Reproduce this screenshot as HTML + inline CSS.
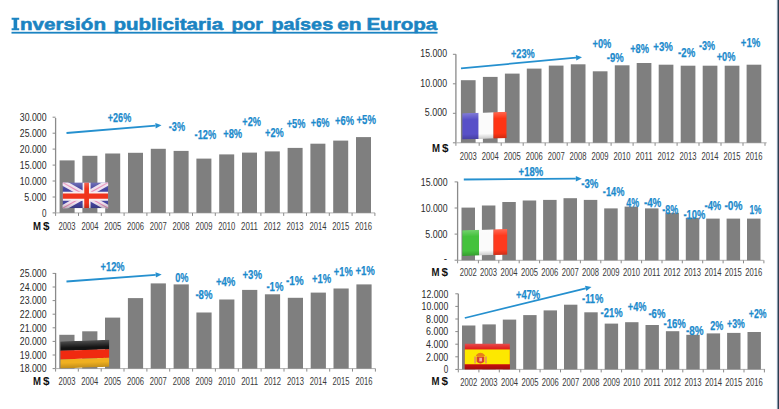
<!DOCTYPE html>
<html><head><meta charset="utf-8">
<style>
html,body{margin:0;padding:0;background:#fff;}
body{width:779px;height:409px;overflow:hidden;position:relative;}
svg{display:block;}
.ax{font-family:"Liberation Sans", sans-serif;font-size:10px;fill:#2a2a2a;}
.yr{font-family:"Liberation Sans", sans-serif;font-size:10.4px;fill:#3a3a3a;}
.ms{font-family:"Liberation Sans", sans-serif;font-size:10.5px;font-weight:bold;fill:#111;}
.pc{font-family:"Liberation Sans", sans-serif;font-size:13.3px;font-weight:bold;fill:#1b8acc;stroke:#1b8acc;stroke-width:0.25px;}
.ti{font-family:"Liberation Sans", sans-serif;font-size:17px;font-weight:bold;fill:#1b84c2;stroke:#1b84c2;stroke-width:0.55px;}
</style></head><body>
<svg width="779" height="409" viewBox="0 0 779 409">
<defs>
<linearGradient id="gl" x1="0" y1="0" x2="0" y2="1">
<stop offset="0" stop-color="#fff" stop-opacity="0.25"/>
<stop offset="0.25" stop-color="#fff" stop-opacity="0"/>
<stop offset="0.8" stop-color="#000" stop-opacity="0"/>
<stop offset="1" stop-color="#000" stop-opacity="0.2"/>
</linearGradient>
</defs>
<rect width="779" height="409" fill="#fff"/>
<text x="20.0" y="30.2" class="ti" textLength="86.0" lengthAdjust="spacingAndGlyphs">nversión</text><text x="113.4" y="30.2" class="ti" textLength="109.8" lengthAdjust="spacingAndGlyphs">publicitaria</text><text x="231.4" y="30.2" class="ti" textLength="31.4" lengthAdjust="spacingAndGlyphs">por</text><text x="271.4" y="30.2" class="ti" textLength="61.8" lengthAdjust="spacingAndGlyphs">países</text><text x="337.2" y="30.2" class="ti" textLength="24.4" lengthAdjust="spacingAndGlyphs">en</text><text x="366.4" y="30.2" class="ti" textLength="70.9" lengthAdjust="spacingAndGlyphs">Europa</text>
<path d="M11.6,17.7H19.2V19.7H17.2V28.2H19.2V30.2H11.6V28.2H13.6V19.7H11.6Z" fill="#1b84c2"/>
<rect x="11.5" y="31.8" width="426" height="1.8" fill="#1b84c2"/>
<text x="46.5" y="216.6" text-anchor="end" class="ax" textLength="4.5" lengthAdjust="spacingAndGlyphs">0</text>
<line x1="52.6" y1="212.9" x2="55.6" y2="212.9" stroke="#8a8a8a" stroke-width="1"/>
<text x="46.5" y="200.7" text-anchor="end" class="ax" textLength="22.2" lengthAdjust="spacingAndGlyphs">5.000</text>
<line x1="52.6" y1="197.0" x2="55.6" y2="197.0" stroke="#8a8a8a" stroke-width="1"/>
<text x="46.5" y="184.7" text-anchor="end" class="ax" textLength="26.7" lengthAdjust="spacingAndGlyphs">10.000</text>
<line x1="52.6" y1="181.0" x2="55.6" y2="181.0" stroke="#8a8a8a" stroke-width="1"/>
<text x="46.5" y="168.8" text-anchor="end" class="ax" textLength="26.7" lengthAdjust="spacingAndGlyphs">15.000</text>
<line x1="52.6" y1="165.1" x2="55.6" y2="165.1" stroke="#8a8a8a" stroke-width="1"/>
<text x="46.5" y="152.8" text-anchor="end" class="ax" textLength="26.7" lengthAdjust="spacingAndGlyphs">20.000</text>
<line x1="52.6" y1="149.1" x2="55.6" y2="149.1" stroke="#8a8a8a" stroke-width="1"/>
<text x="46.5" y="136.8" text-anchor="end" class="ax" textLength="26.7" lengthAdjust="spacingAndGlyphs">25.000</text>
<line x1="52.6" y1="133.2" x2="55.6" y2="133.2" stroke="#8a8a8a" stroke-width="1"/>
<text x="46.5" y="120.9" text-anchor="end" class="ax" textLength="26.7" lengthAdjust="spacingAndGlyphs">30.000</text>
<line x1="52.6" y1="117.2" x2="55.6" y2="117.2" stroke="#8a8a8a" stroke-width="1"/>
<line x1="55.6" y1="118" x2="55.6" y2="212.9" stroke="#8a8a8a" stroke-width="1.3"/>
<line x1="55.6" y1="212.9" x2="375" y2="212.9" stroke="#b0b0b0" stroke-width="1"/>
<rect x="59.6" y="160.4" width="15" height="52.5" fill="#7f7f7f"/>
<rect x="82.4" y="155.8" width="15" height="57.1" fill="#7f7f7f"/>
<rect x="105.2" y="153.5" width="15" height="59.4" fill="#7f7f7f"/>
<rect x="128.0" y="152.8" width="15" height="60.1" fill="#7f7f7f"/>
<rect x="150.8" y="148.8" width="15" height="64.1" fill="#7f7f7f"/>
<rect x="173.6" y="150.9" width="15" height="62.0" fill="#7f7f7f"/>
<rect x="196.4" y="158.6" width="15" height="54.3" fill="#7f7f7f"/>
<rect x="219.2" y="154.4" width="15" height="58.5" fill="#7f7f7f"/>
<rect x="242.0" y="152.6" width="15" height="60.3" fill="#7f7f7f"/>
<rect x="264.8" y="151.4" width="15" height="61.5" fill="#7f7f7f"/>
<rect x="287.6" y="147.9" width="15" height="65.0" fill="#7f7f7f"/>
<rect x="310.4" y="143.7" width="15" height="69.2" fill="#7f7f7f"/>
<rect x="333.2" y="140.6" width="15" height="72.3" fill="#7f7f7f"/>
<rect x="356.0" y="137.1" width="15" height="75.8" fill="#7f7f7f"/>
<line x1="55.6" y1="212.9" x2="55.6" y2="215.9" stroke="#8a8a8a" stroke-width="1"/>
<line x1="78.5" y1="212.9" x2="78.5" y2="215.9" stroke="#8a8a8a" stroke-width="1"/>
<line x1="101.3" y1="212.9" x2="101.3" y2="215.9" stroke="#8a8a8a" stroke-width="1"/>
<line x1="124.1" y1="212.9" x2="124.1" y2="215.9" stroke="#8a8a8a" stroke-width="1"/>
<line x1="146.9" y1="212.9" x2="146.9" y2="215.9" stroke="#8a8a8a" stroke-width="1"/>
<line x1="169.7" y1="212.9" x2="169.7" y2="215.9" stroke="#8a8a8a" stroke-width="1"/>
<line x1="192.5" y1="212.9" x2="192.5" y2="215.9" stroke="#8a8a8a" stroke-width="1"/>
<line x1="215.3" y1="212.9" x2="215.3" y2="215.9" stroke="#8a8a8a" stroke-width="1"/>
<line x1="238.1" y1="212.9" x2="238.1" y2="215.9" stroke="#8a8a8a" stroke-width="1"/>
<line x1="260.9" y1="212.9" x2="260.9" y2="215.9" stroke="#8a8a8a" stroke-width="1"/>
<line x1="283.7" y1="212.9" x2="283.7" y2="215.9" stroke="#8a8a8a" stroke-width="1"/>
<line x1="306.5" y1="212.9" x2="306.5" y2="215.9" stroke="#8a8a8a" stroke-width="1"/>
<line x1="329.3" y1="212.9" x2="329.3" y2="215.9" stroke="#8a8a8a" stroke-width="1"/>
<line x1="352.1" y1="212.9" x2="352.1" y2="215.9" stroke="#8a8a8a" stroke-width="1"/>
<line x1="374.9" y1="212.9" x2="374.9" y2="215.9" stroke="#8a8a8a" stroke-width="1"/>
<text x="67.1" y="229.5" text-anchor="middle" class="yr" textLength="17" lengthAdjust="spacingAndGlyphs">2003</text>
<text x="89.9" y="229.5" text-anchor="middle" class="yr" textLength="17" lengthAdjust="spacingAndGlyphs">2004</text>
<text x="112.7" y="229.5" text-anchor="middle" class="yr" textLength="17" lengthAdjust="spacingAndGlyphs">2005</text>
<text x="135.5" y="229.5" text-anchor="middle" class="yr" textLength="17" lengthAdjust="spacingAndGlyphs">2006</text>
<text x="158.3" y="229.5" text-anchor="middle" class="yr" textLength="17" lengthAdjust="spacingAndGlyphs">2007</text>
<text x="181.1" y="229.5" text-anchor="middle" class="yr" textLength="17" lengthAdjust="spacingAndGlyphs">2008</text>
<text x="203.9" y="229.5" text-anchor="middle" class="yr" textLength="17" lengthAdjust="spacingAndGlyphs">2009</text>
<text x="226.7" y="229.5" text-anchor="middle" class="yr" textLength="17" lengthAdjust="spacingAndGlyphs">2010</text>
<text x="249.5" y="229.5" text-anchor="middle" class="yr" textLength="17" lengthAdjust="spacingAndGlyphs">2011</text>
<text x="272.3" y="229.5" text-anchor="middle" class="yr" textLength="17" lengthAdjust="spacingAndGlyphs">2012</text>
<text x="295.1" y="229.5" text-anchor="middle" class="yr" textLength="17" lengthAdjust="spacingAndGlyphs">2013</text>
<text x="317.9" y="229.5" text-anchor="middle" class="yr" textLength="17" lengthAdjust="spacingAndGlyphs">2014</text>
<text x="340.7" y="229.5" text-anchor="middle" class="yr" textLength="17" lengthAdjust="spacingAndGlyphs">2015</text>
<text x="363.5" y="229.5" text-anchor="middle" class="yr" textLength="17" lengthAdjust="spacingAndGlyphs">2016</text>
<text x="33" y="229.8" class="ms" textLength="8" lengthAdjust="spacingAndGlyphs">M</text>
<text x="43" y="229.8" class="ms" textLength="6.5" lengthAdjust="spacingAndGlyphs">$</text>
<line x1="66.5" y1="133" x2="155.5" y2="125.7" stroke="#2590cf" stroke-width="1.8"/>
<polygon points="161.5,125.2 155.7,128.4 155.3,123.0" fill="#2590cf"/>
<text x="107.8" y="121.8" class="pc" textLength="23.4" lengthAdjust="spacingAndGlyphs">+26%</text>
<text x="168.8" y="130.8" class="pc" textLength="16.3" lengthAdjust="spacingAndGlyphs">-3%</text>
<text x="194.6" y="138.5" class="pc" textLength="21.6" lengthAdjust="spacingAndGlyphs">-12%</text>
<text x="223.2" y="137.8" class="pc" textLength="19.0" lengthAdjust="spacingAndGlyphs">+8%</text>
<text x="242.3" y="125.7" class="pc" textLength="18.6" lengthAdjust="spacingAndGlyphs">+2%</text>
<text x="265.1" y="136.9" class="pc" textLength="18.7" lengthAdjust="spacingAndGlyphs">+2%</text>
<text x="286.7" y="128.0" class="pc" textLength="18.7" lengthAdjust="spacingAndGlyphs">+5%</text>
<text x="310.8" y="126.7" class="pc" textLength="18.7" lengthAdjust="spacingAndGlyphs">+6%</text>
<text x="335.0" y="125.4" class="pc" textLength="19.0" lengthAdjust="spacingAndGlyphs">+6%</text>
<text x="356.5" y="124.1" class="pc" textLength="19.4" lengthAdjust="spacingAndGlyphs">+5%</text>
<text x="46.5" y="372.3" text-anchor="end" class="ax" textLength="26.7" lengthAdjust="spacingAndGlyphs">18.000</text>
<line x1="52.6" y1="368.6" x2="55.6" y2="368.6" stroke="#8a8a8a" stroke-width="1"/>
<text x="46.5" y="358.7" text-anchor="end" class="ax" textLength="26.7" lengthAdjust="spacingAndGlyphs">19.000</text>
<line x1="52.6" y1="355.0" x2="55.6" y2="355.0" stroke="#8a8a8a" stroke-width="1"/>
<text x="46.5" y="345.1" text-anchor="end" class="ax" textLength="26.7" lengthAdjust="spacingAndGlyphs">20.000</text>
<line x1="52.6" y1="341.4" x2="55.6" y2="341.4" stroke="#8a8a8a" stroke-width="1"/>
<text x="46.5" y="331.5" text-anchor="end" class="ax" textLength="26.7" lengthAdjust="spacingAndGlyphs">21.000</text>
<line x1="52.6" y1="327.8" x2="55.6" y2="327.8" stroke="#8a8a8a" stroke-width="1"/>
<text x="46.5" y="317.9" text-anchor="end" class="ax" textLength="26.7" lengthAdjust="spacingAndGlyphs">22.000</text>
<line x1="52.6" y1="314.2" x2="55.6" y2="314.2" stroke="#8a8a8a" stroke-width="1"/>
<text x="46.5" y="304.3" text-anchor="end" class="ax" textLength="26.7" lengthAdjust="spacingAndGlyphs">23.000</text>
<line x1="52.6" y1="300.6" x2="55.6" y2="300.6" stroke="#8a8a8a" stroke-width="1"/>
<text x="46.5" y="290.7" text-anchor="end" class="ax" textLength="26.7" lengthAdjust="spacingAndGlyphs">24.000</text>
<line x1="52.6" y1="287.0" x2="55.6" y2="287.0" stroke="#8a8a8a" stroke-width="1"/>
<text x="46.5" y="277.1" text-anchor="end" class="ax" textLength="26.7" lengthAdjust="spacingAndGlyphs">25.000</text>
<line x1="52.6" y1="273.4" x2="55.6" y2="273.4" stroke="#8a8a8a" stroke-width="1"/>
<line x1="55.6" y1="273" x2="55.6" y2="368.6" stroke="#8a8a8a" stroke-width="1.3"/>
<line x1="55.6" y1="368.6" x2="375.4" y2="368.6" stroke="#b0b0b0" stroke-width="1"/>
<rect x="59.3" y="334.8" width="15.2" height="33.8" fill="#7f7f7f"/>
<rect x="82.2" y="331.3" width="15.2" height="37.3" fill="#7f7f7f"/>
<rect x="105.0" y="317.6" width="15.2" height="51.0" fill="#7f7f7f"/>
<rect x="127.9" y="298.1" width="15.2" height="70.5" fill="#7f7f7f"/>
<rect x="150.7" y="283.4" width="15.2" height="85.2" fill="#7f7f7f"/>
<rect x="173.6" y="284.4" width="15.2" height="84.2" fill="#7f7f7f"/>
<rect x="196.4" y="312.5" width="15.2" height="56.1" fill="#7f7f7f"/>
<rect x="219.2" y="299.5" width="15.2" height="69.1" fill="#7f7f7f"/>
<rect x="242.1" y="289.9" width="15.2" height="78.7" fill="#7f7f7f"/>
<rect x="264.9" y="294.3" width="15.2" height="74.3" fill="#7f7f7f"/>
<rect x="287.8" y="297.8" width="15.2" height="70.8" fill="#7f7f7f"/>
<rect x="310.7" y="292.6" width="15.2" height="76.0" fill="#7f7f7f"/>
<rect x="333.5" y="288.5" width="15.2" height="80.1" fill="#7f7f7f"/>
<rect x="356.4" y="284.4" width="15.2" height="84.2" fill="#7f7f7f"/>
<line x1="55.6" y1="368.6" x2="55.6" y2="371.6" stroke="#8a8a8a" stroke-width="1"/>
<line x1="78.3" y1="368.6" x2="78.3" y2="371.6" stroke="#8a8a8a" stroke-width="1"/>
<line x1="101.2" y1="368.6" x2="101.2" y2="371.6" stroke="#8a8a8a" stroke-width="1"/>
<line x1="124.0" y1="368.6" x2="124.0" y2="371.6" stroke="#8a8a8a" stroke-width="1"/>
<line x1="146.9" y1="368.6" x2="146.9" y2="371.6" stroke="#8a8a8a" stroke-width="1"/>
<line x1="169.7" y1="368.6" x2="169.7" y2="371.6" stroke="#8a8a8a" stroke-width="1"/>
<line x1="192.6" y1="368.6" x2="192.6" y2="371.6" stroke="#8a8a8a" stroke-width="1"/>
<line x1="215.4" y1="368.6" x2="215.4" y2="371.6" stroke="#8a8a8a" stroke-width="1"/>
<line x1="238.3" y1="368.6" x2="238.3" y2="371.6" stroke="#8a8a8a" stroke-width="1"/>
<line x1="261.1" y1="368.6" x2="261.1" y2="371.6" stroke="#8a8a8a" stroke-width="1"/>
<line x1="284.0" y1="368.6" x2="284.0" y2="371.6" stroke="#8a8a8a" stroke-width="1"/>
<line x1="306.8" y1="368.6" x2="306.8" y2="371.6" stroke="#8a8a8a" stroke-width="1"/>
<line x1="329.7" y1="368.6" x2="329.7" y2="371.6" stroke="#8a8a8a" stroke-width="1"/>
<line x1="352.5" y1="368.6" x2="352.5" y2="371.6" stroke="#8a8a8a" stroke-width="1"/>
<line x1="375.4" y1="368.6" x2="375.4" y2="371.6" stroke="#8a8a8a" stroke-width="1"/>
<text x="66.9" y="385" text-anchor="middle" class="yr" textLength="17" lengthAdjust="spacingAndGlyphs">2003</text>
<text x="89.8" y="385" text-anchor="middle" class="yr" textLength="17" lengthAdjust="spacingAndGlyphs">2004</text>
<text x="112.6" y="385" text-anchor="middle" class="yr" textLength="17" lengthAdjust="spacingAndGlyphs">2005</text>
<text x="135.5" y="385" text-anchor="middle" class="yr" textLength="17" lengthAdjust="spacingAndGlyphs">2006</text>
<text x="158.3" y="385" text-anchor="middle" class="yr" textLength="17" lengthAdjust="spacingAndGlyphs">2007</text>
<text x="181.2" y="385" text-anchor="middle" class="yr" textLength="17" lengthAdjust="spacingAndGlyphs">2008</text>
<text x="204.0" y="385" text-anchor="middle" class="yr" textLength="17" lengthAdjust="spacingAndGlyphs">2009</text>
<text x="226.8" y="385" text-anchor="middle" class="yr" textLength="17" lengthAdjust="spacingAndGlyphs">2010</text>
<text x="249.7" y="385" text-anchor="middle" class="yr" textLength="17" lengthAdjust="spacingAndGlyphs">2011</text>
<text x="272.6" y="385" text-anchor="middle" class="yr" textLength="17" lengthAdjust="spacingAndGlyphs">2012</text>
<text x="295.4" y="385" text-anchor="middle" class="yr" textLength="17" lengthAdjust="spacingAndGlyphs">2013</text>
<text x="318.3" y="385" text-anchor="middle" class="yr" textLength="17" lengthAdjust="spacingAndGlyphs">2014</text>
<text x="341.1" y="385" text-anchor="middle" class="yr" textLength="17" lengthAdjust="spacingAndGlyphs">2015</text>
<text x="364.0" y="385" text-anchor="middle" class="yr" textLength="17" lengthAdjust="spacingAndGlyphs">2016</text>
<text x="33" y="384.6" class="ms" textLength="8" lengthAdjust="spacingAndGlyphs">M</text>
<text x="43" y="384.6" class="ms" textLength="6.5" lengthAdjust="spacingAndGlyphs">$</text>
<line x1="66.5" y1="281.5" x2="155.7" y2="274.9" stroke="#2590cf" stroke-width="1.8"/>
<polygon points="161.7,274.5 155.9,277.6 155.5,272.2" fill="#2590cf"/>
<text x="100.6" y="271.1" class="pc" textLength="24.0" lengthAdjust="spacingAndGlyphs">+12%</text>
<text x="175.2" y="281.8" class="pc" textLength="13.3" lengthAdjust="spacingAndGlyphs">0%</text>
<text x="195.4" y="298.5" class="pc" textLength="17.1" lengthAdjust="spacingAndGlyphs">-8%</text>
<text x="215.9" y="285.9" class="pc" textLength="19.5" lengthAdjust="spacingAndGlyphs">+4%</text>
<text x="242.5" y="279.1" class="pc" textLength="19.5" lengthAdjust="spacingAndGlyphs">+3%</text>
<text x="266.4" y="291.1" class="pc" textLength="17.1" lengthAdjust="spacingAndGlyphs">-1%</text>
<text x="285.9" y="285.2" class="pc" textLength="17.8" lengthAdjust="spacingAndGlyphs">-1%</text>
<text x="311.9" y="283.1" class="pc" textLength="19.2" lengthAdjust="spacingAndGlyphs">+1%</text>
<text x="333.8" y="276.3" class="pc" textLength="18.9" lengthAdjust="spacingAndGlyphs">+1%</text>
<text x="355.4" y="274.9" class="pc" textLength="19.5" lengthAdjust="spacingAndGlyphs">+1%</text>
<text x="447" y="116.2" text-anchor="end" class="ax" textLength="22.2" lengthAdjust="spacingAndGlyphs">5.000</text>
<line x1="452.9" y1="113.3" x2="455.9" y2="113.3" stroke="#8a8a8a" stroke-width="1"/>
<text x="447" y="86.7" text-anchor="end" class="ax" textLength="26.7" lengthAdjust="spacingAndGlyphs">10.000</text>
<line x1="452.9" y1="83.8" x2="455.9" y2="83.8" stroke="#8a8a8a" stroke-width="1"/>
<text x="447" y="57.2" text-anchor="end" class="ax" textLength="26.7" lengthAdjust="spacingAndGlyphs">15.000</text>
<line x1="452.9" y1="54.3" x2="455.9" y2="54.3" stroke="#8a8a8a" stroke-width="1"/>
<line x1="452.9" y1="142.8" x2="455.9" y2="142.8" stroke="#8a8a8a"/>
<line x1="455.9" y1="54.3" x2="455.9" y2="142.8" stroke="#8a8a8a" stroke-width="1.3"/>
<line x1="455.9" y1="142.8" x2="766.7" y2="142.8" stroke="#b0b0b0" stroke-width="1"/>
<rect x="460.9" y="80.2" width="14.7" height="62.6" fill="#7f7f7f"/>
<rect x="482.9" y="76.9" width="14.7" height="65.9" fill="#7f7f7f"/>
<rect x="504.9" y="73.6" width="14.7" height="69.2" fill="#7f7f7f"/>
<rect x="526.8" y="68.6" width="14.7" height="74.2" fill="#7f7f7f"/>
<rect x="548.8" y="65.6" width="14.7" height="77.2" fill="#7f7f7f"/>
<rect x="570.8" y="64.3" width="14.7" height="78.5" fill="#7f7f7f"/>
<rect x="592.8" y="71.3" width="14.7" height="71.5" fill="#7f7f7f"/>
<rect x="614.8" y="65.3" width="14.7" height="77.5" fill="#7f7f7f"/>
<rect x="636.7" y="63.0" width="14.7" height="79.8" fill="#7f7f7f"/>
<rect x="658.7" y="64.7" width="14.7" height="78.1" fill="#7f7f7f"/>
<rect x="680.7" y="65.7" width="14.7" height="77.1" fill="#7f7f7f"/>
<rect x="702.7" y="65.7" width="14.7" height="77.1" fill="#7f7f7f"/>
<rect x="724.7" y="65.7" width="14.7" height="77.1" fill="#7f7f7f"/>
<rect x="746.6" y="64.7" width="14.7" height="78.1" fill="#7f7f7f"/>
<line x1="455.9" y1="142.8" x2="455.9" y2="145.8" stroke="#8a8a8a" stroke-width="1"/>
<line x1="479.2" y1="142.8" x2="479.2" y2="145.8" stroke="#8a8a8a" stroke-width="1"/>
<line x1="501.2" y1="142.8" x2="501.2" y2="145.8" stroke="#8a8a8a" stroke-width="1"/>
<line x1="523.2" y1="142.8" x2="523.2" y2="145.8" stroke="#8a8a8a" stroke-width="1"/>
<line x1="545.2" y1="142.8" x2="545.2" y2="145.8" stroke="#8a8a8a" stroke-width="1"/>
<line x1="567.2" y1="142.8" x2="567.2" y2="145.8" stroke="#8a8a8a" stroke-width="1"/>
<line x1="589.1" y1="142.8" x2="589.1" y2="145.8" stroke="#8a8a8a" stroke-width="1"/>
<line x1="611.1" y1="142.8" x2="611.1" y2="145.8" stroke="#8a8a8a" stroke-width="1"/>
<line x1="633.1" y1="142.8" x2="633.1" y2="145.8" stroke="#8a8a8a" stroke-width="1"/>
<line x1="655.1" y1="142.8" x2="655.1" y2="145.8" stroke="#8a8a8a" stroke-width="1"/>
<line x1="677.1" y1="142.8" x2="677.1" y2="145.8" stroke="#8a8a8a" stroke-width="1"/>
<line x1="699.0" y1="142.8" x2="699.0" y2="145.8" stroke="#8a8a8a" stroke-width="1"/>
<line x1="721.0" y1="142.8" x2="721.0" y2="145.8" stroke="#8a8a8a" stroke-width="1"/>
<line x1="743.0" y1="142.8" x2="743.0" y2="145.8" stroke="#8a8a8a" stroke-width="1"/>
<line x1="765.0" y1="142.8" x2="765.0" y2="145.8" stroke="#8a8a8a" stroke-width="1"/>
<text x="468.2" y="159.8" text-anchor="middle" class="yr" textLength="17" lengthAdjust="spacingAndGlyphs">2003</text>
<text x="490.2" y="159.8" text-anchor="middle" class="yr" textLength="17" lengthAdjust="spacingAndGlyphs">2004</text>
<text x="512.2" y="159.8" text-anchor="middle" class="yr" textLength="17" lengthAdjust="spacingAndGlyphs">2005</text>
<text x="534.2" y="159.8" text-anchor="middle" class="yr" textLength="17" lengthAdjust="spacingAndGlyphs">2006</text>
<text x="556.2" y="159.8" text-anchor="middle" class="yr" textLength="17" lengthAdjust="spacingAndGlyphs">2007</text>
<text x="578.1" y="159.8" text-anchor="middle" class="yr" textLength="17" lengthAdjust="spacingAndGlyphs">2008</text>
<text x="600.1" y="159.8" text-anchor="middle" class="yr" textLength="17" lengthAdjust="spacingAndGlyphs">2009</text>
<text x="622.1" y="159.8" text-anchor="middle" class="yr" textLength="17" lengthAdjust="spacingAndGlyphs">2010</text>
<text x="644.1" y="159.8" text-anchor="middle" class="yr" textLength="17" lengthAdjust="spacingAndGlyphs">2011</text>
<text x="666.1" y="159.8" text-anchor="middle" class="yr" textLength="17" lengthAdjust="spacingAndGlyphs">2012</text>
<text x="688.1" y="159.8" text-anchor="middle" class="yr" textLength="17" lengthAdjust="spacingAndGlyphs">2013</text>
<text x="710.0" y="159.8" text-anchor="middle" class="yr" textLength="17" lengthAdjust="spacingAndGlyphs">2014</text>
<text x="732.0" y="159.8" text-anchor="middle" class="yr" textLength="17" lengthAdjust="spacingAndGlyphs">2015</text>
<text x="754.0" y="159.8" text-anchor="middle" class="yr" textLength="17" lengthAdjust="spacingAndGlyphs">2016</text>
<text x="432" y="151.8" class="ms" textLength="8" lengthAdjust="spacingAndGlyphs">M</text>
<text x="442" y="151.8" class="ms" textLength="6.5" lengthAdjust="spacingAndGlyphs">$</text>
<line x1="461" y1="68.3" x2="576.0" y2="57.7" stroke="#2590cf" stroke-width="1.8"/>
<polygon points="582,57.2 576.3,60.4 575.8,55.1" fill="#2590cf"/>
<text x="510.9" y="58.1" class="pc" textLength="23.8" lengthAdjust="spacingAndGlyphs">+23%</text>
<text x="592.5" y="48.3" class="pc" textLength="18.8" lengthAdjust="spacingAndGlyphs">+0%</text>
<text x="606.8" y="61.5" class="pc" textLength="16.9" lengthAdjust="spacingAndGlyphs">-9%</text>
<text x="630.2" y="53.2" class="pc" textLength="18.8" lengthAdjust="spacingAndGlyphs">+8%</text>
<text x="653.3" y="50.6" class="pc" textLength="19.5" lengthAdjust="spacingAndGlyphs">+3%</text>
<text x="678.1" y="56.5" class="pc" textLength="17.1" lengthAdjust="spacingAndGlyphs">-2%</text>
<text x="698.9" y="49.9" class="pc" textLength="16.1" lengthAdjust="spacingAndGlyphs">-3%</text>
<text x="716.7" y="60.5" class="pc" textLength="18.8" lengthAdjust="spacingAndGlyphs">+0%</text>
<text x="740.8" y="47.3" class="pc" textLength="19.5" lengthAdjust="spacingAndGlyphs">+1%</text>
<text x="447.5" y="237.8" text-anchor="end" class="ax" textLength="22.2" lengthAdjust="spacingAndGlyphs">5.000</text>
<line x1="454.6" y1="234.1" x2="457.6" y2="234.1" stroke="#8a8a8a" stroke-width="1"/>
<text x="447.5" y="211.7" text-anchor="end" class="ax" textLength="26.7" lengthAdjust="spacingAndGlyphs">10.000</text>
<line x1="454.6" y1="208.0" x2="457.6" y2="208.0" stroke="#8a8a8a" stroke-width="1"/>
<text x="447.5" y="185.6" text-anchor="end" class="ax" textLength="26.7" lengthAdjust="spacingAndGlyphs">15.000</text>
<line x1="454.6" y1="181.9" x2="457.6" y2="181.9" stroke="#8a8a8a" stroke-width="1"/>
<text x="447" y="262" text-anchor="end" class="ax">-</text>
<line x1="454.6" y1="260.2" x2="457.6" y2="260.2" stroke="#8a8a8a"/>
<line x1="457.6" y1="181.8" x2="457.6" y2="260.3" stroke="#8a8a8a" stroke-width="1.3"/>
<line x1="457.6" y1="260.3" x2="763.6" y2="260.3" stroke="#b0b0b0" stroke-width="1"/>
<rect x="461.5" y="207.6" width="13.5" height="52.7" fill="#7f7f7f"/>
<rect x="481.9" y="205.5" width="13.5" height="54.8" fill="#7f7f7f"/>
<rect x="502.3" y="202.0" width="13.5" height="58.3" fill="#7f7f7f"/>
<rect x="522.7" y="200.5" width="13.5" height="59.8" fill="#7f7f7f"/>
<rect x="543.1" y="199.9" width="13.5" height="60.4" fill="#7f7f7f"/>
<rect x="563.5" y="198.2" width="13.5" height="62.1" fill="#7f7f7f"/>
<rect x="583.8" y="199.9" width="13.5" height="60.4" fill="#7f7f7f"/>
<rect x="604.2" y="208.4" width="13.5" height="51.9" fill="#7f7f7f"/>
<rect x="624.6" y="206.6" width="13.5" height="53.7" fill="#7f7f7f"/>
<rect x="645.0" y="208.4" width="13.5" height="51.9" fill="#7f7f7f"/>
<rect x="665.4" y="212.8" width="13.5" height="47.5" fill="#7f7f7f"/>
<rect x="685.8" y="217.8" width="13.5" height="42.5" fill="#7f7f7f"/>
<rect x="706.2" y="218.6" width="13.5" height="41.7" fill="#7f7f7f"/>
<rect x="726.6" y="218.6" width="13.5" height="41.7" fill="#7f7f7f"/>
<rect x="747.0" y="218.6" width="13.5" height="41.7" fill="#7f7f7f"/>
<line x1="457.6" y1="260.3" x2="457.6" y2="263.3" stroke="#8a8a8a" stroke-width="1"/>
<line x1="478.4" y1="260.3" x2="478.4" y2="263.3" stroke="#8a8a8a" stroke-width="1"/>
<line x1="498.8" y1="260.3" x2="498.8" y2="263.3" stroke="#8a8a8a" stroke-width="1"/>
<line x1="519.2" y1="260.3" x2="519.2" y2="263.3" stroke="#8a8a8a" stroke-width="1"/>
<line x1="539.6" y1="260.3" x2="539.6" y2="263.3" stroke="#8a8a8a" stroke-width="1"/>
<line x1="560.0" y1="260.3" x2="560.0" y2="263.3" stroke="#8a8a8a" stroke-width="1"/>
<line x1="580.4" y1="260.3" x2="580.4" y2="263.3" stroke="#8a8a8a" stroke-width="1"/>
<line x1="600.8" y1="260.3" x2="600.8" y2="263.3" stroke="#8a8a8a" stroke-width="1"/>
<line x1="621.2" y1="260.3" x2="621.2" y2="263.3" stroke="#8a8a8a" stroke-width="1"/>
<line x1="641.6" y1="260.3" x2="641.6" y2="263.3" stroke="#8a8a8a" stroke-width="1"/>
<line x1="662.0" y1="260.3" x2="662.0" y2="263.3" stroke="#8a8a8a" stroke-width="1"/>
<line x1="682.3" y1="260.3" x2="682.3" y2="263.3" stroke="#8a8a8a" stroke-width="1"/>
<line x1="702.7" y1="260.3" x2="702.7" y2="263.3" stroke="#8a8a8a" stroke-width="1"/>
<line x1="723.1" y1="260.3" x2="723.1" y2="263.3" stroke="#8a8a8a" stroke-width="1"/>
<line x1="743.5" y1="260.3" x2="743.5" y2="263.3" stroke="#8a8a8a" stroke-width="1"/>
<line x1="763.9" y1="260.3" x2="763.9" y2="263.3" stroke="#8a8a8a" stroke-width="1"/>
<text x="468.2" y="276.3" text-anchor="middle" class="yr" textLength="17" lengthAdjust="spacingAndGlyphs">2002</text>
<text x="488.6" y="276.3" text-anchor="middle" class="yr" textLength="17" lengthAdjust="spacingAndGlyphs">2003</text>
<text x="509.0" y="276.3" text-anchor="middle" class="yr" textLength="17" lengthAdjust="spacingAndGlyphs">2004</text>
<text x="529.4" y="276.3" text-anchor="middle" class="yr" textLength="17" lengthAdjust="spacingAndGlyphs">2005</text>
<text x="549.8" y="276.3" text-anchor="middle" class="yr" textLength="17" lengthAdjust="spacingAndGlyphs">2006</text>
<text x="570.2" y="276.3" text-anchor="middle" class="yr" textLength="17" lengthAdjust="spacingAndGlyphs">2007</text>
<text x="590.6" y="276.3" text-anchor="middle" class="yr" textLength="17" lengthAdjust="spacingAndGlyphs">2008</text>
<text x="611.0" y="276.3" text-anchor="middle" class="yr" textLength="17" lengthAdjust="spacingAndGlyphs">2009</text>
<text x="631.4" y="276.3" text-anchor="middle" class="yr" textLength="17" lengthAdjust="spacingAndGlyphs">2010</text>
<text x="651.8" y="276.3" text-anchor="middle" class="yr" textLength="17" lengthAdjust="spacingAndGlyphs">2011</text>
<text x="672.1" y="276.3" text-anchor="middle" class="yr" textLength="17" lengthAdjust="spacingAndGlyphs">2012</text>
<text x="692.5" y="276.3" text-anchor="middle" class="yr" textLength="17" lengthAdjust="spacingAndGlyphs">2013</text>
<text x="712.9" y="276.3" text-anchor="middle" class="yr" textLength="17" lengthAdjust="spacingAndGlyphs">2014</text>
<text x="733.3" y="276.3" text-anchor="middle" class="yr" textLength="17" lengthAdjust="spacingAndGlyphs">2015</text>
<text x="753.7" y="276.3" text-anchor="middle" class="yr" textLength="17" lengthAdjust="spacingAndGlyphs">2016</text>
<text x="431.5" y="276.2" class="ms" textLength="8" lengthAdjust="spacingAndGlyphs">M</text>
<text x="441.5" y="276.2" class="ms" textLength="6.5" lengthAdjust="spacingAndGlyphs">$</text>
<line x1="463.8" y1="179.5" x2="575.8" y2="178.7" stroke="#2590cf" stroke-width="1.8"/>
<polygon points="581.8,178.7 575.8,181.4 575.8,176.0" fill="#2590cf"/>
<text x="518.6" y="176.0" class="pc" textLength="24.6" lengthAdjust="spacingAndGlyphs">+18%</text>
<text x="581.2" y="187.7" class="pc" textLength="17.2" lengthAdjust="spacingAndGlyphs">-3%</text>
<text x="602.8" y="195.9" class="pc" textLength="21.6" lengthAdjust="spacingAndGlyphs">-14%</text>
<text x="626.3" y="206.7" class="pc" textLength="12.8" lengthAdjust="spacingAndGlyphs">4%</text>
<text x="643.9" y="206.7" class="pc" textLength="17.4" lengthAdjust="spacingAndGlyphs">-4%</text>
<text x="662.3" y="213.5" class="pc" textLength="15.8" lengthAdjust="spacingAndGlyphs">-8%</text>
<text x="683.5" y="218.5" class="pc" textLength="21.8" lengthAdjust="spacingAndGlyphs">-10%</text>
<text x="704.5" y="209.7" class="pc" textLength="16.7" lengthAdjust="spacingAndGlyphs">-4%</text>
<text x="724.5" y="209.7" class="pc" textLength="18.0" lengthAdjust="spacingAndGlyphs">-0%</text>
<text x="749.4" y="214.4" class="pc" textLength="12.2" lengthAdjust="spacingAndGlyphs">1%</text>
<text x="448.3" y="373.1" text-anchor="end" class="ax" textLength="4.5" lengthAdjust="spacingAndGlyphs">0</text>
<line x1="455.3" y1="369.4" x2="458.3" y2="369.4" stroke="#8a8a8a" stroke-width="1"/>
<text x="448.3" y="360.5" text-anchor="end" class="ax" textLength="22.2" lengthAdjust="spacingAndGlyphs">2.000</text>
<line x1="455.3" y1="356.8" x2="458.3" y2="356.8" stroke="#8a8a8a" stroke-width="1"/>
<text x="448.3" y="347.9" text-anchor="end" class="ax" textLength="22.2" lengthAdjust="spacingAndGlyphs">4.000</text>
<line x1="455.3" y1="344.2" x2="458.3" y2="344.2" stroke="#8a8a8a" stroke-width="1"/>
<text x="448.3" y="335.3" text-anchor="end" class="ax" textLength="22.2" lengthAdjust="spacingAndGlyphs">6.000</text>
<line x1="455.3" y1="331.6" x2="458.3" y2="331.6" stroke="#8a8a8a" stroke-width="1"/>
<text x="448.3" y="322.7" text-anchor="end" class="ax" textLength="22.2" lengthAdjust="spacingAndGlyphs">8.000</text>
<line x1="455.3" y1="319.0" x2="458.3" y2="319.0" stroke="#8a8a8a" stroke-width="1"/>
<text x="448.3" y="310.1" text-anchor="end" class="ax" textLength="26.7" lengthAdjust="spacingAndGlyphs">10.000</text>
<line x1="455.3" y1="306.4" x2="458.3" y2="306.4" stroke="#8a8a8a" stroke-width="1"/>
<text x="448.3" y="297.5" text-anchor="end" class="ax" textLength="26.7" lengthAdjust="spacingAndGlyphs">12.000</text>
<line x1="455.3" y1="293.8" x2="458.3" y2="293.8" stroke="#8a8a8a" stroke-width="1"/>
<line x1="458.3" y1="293.8" x2="458.3" y2="369.4" stroke="#8a8a8a" stroke-width="1.3"/>
<line x1="458.3" y1="369.4" x2="765.1" y2="369.4" stroke="#b0b0b0" stroke-width="1"/>
<rect x="462.0" y="325.5" width="13.4" height="43.9" fill="#7f7f7f"/>
<rect x="482.4" y="324.4" width="13.4" height="45.0" fill="#7f7f7f"/>
<rect x="502.8" y="319.6" width="13.4" height="49.8" fill="#7f7f7f"/>
<rect x="523.2" y="315.1" width="13.4" height="54.3" fill="#7f7f7f"/>
<rect x="543.6" y="310.4" width="13.4" height="59.0" fill="#7f7f7f"/>
<rect x="564.0" y="304.7" width="13.4" height="64.7" fill="#7f7f7f"/>
<rect x="584.3" y="312.3" width="13.4" height="57.1" fill="#7f7f7f"/>
<rect x="604.7" y="323.6" width="13.4" height="45.8" fill="#7f7f7f"/>
<rect x="625.1" y="322.2" width="13.4" height="47.2" fill="#7f7f7f"/>
<rect x="645.5" y="325.0" width="13.4" height="44.4" fill="#7f7f7f"/>
<rect x="665.9" y="331.2" width="13.4" height="38.2" fill="#7f7f7f"/>
<rect x="686.3" y="334.8" width="13.4" height="34.6" fill="#7f7f7f"/>
<rect x="706.7" y="333.4" width="13.4" height="36.0" fill="#7f7f7f"/>
<rect x="727.1" y="332.9" width="13.4" height="36.5" fill="#7f7f7f"/>
<rect x="747.5" y="332.0" width="13.4" height="37.4" fill="#7f7f7f"/>
<line x1="458.3" y1="369.4" x2="458.3" y2="372.4" stroke="#8a8a8a" stroke-width="1"/>
<line x1="478.9" y1="369.4" x2="478.9" y2="372.4" stroke="#8a8a8a" stroke-width="1"/>
<line x1="499.3" y1="369.4" x2="499.3" y2="372.4" stroke="#8a8a8a" stroke-width="1"/>
<line x1="519.7" y1="369.4" x2="519.7" y2="372.4" stroke="#8a8a8a" stroke-width="1"/>
<line x1="540.1" y1="369.4" x2="540.1" y2="372.4" stroke="#8a8a8a" stroke-width="1"/>
<line x1="560.5" y1="369.4" x2="560.5" y2="372.4" stroke="#8a8a8a" stroke-width="1"/>
<line x1="580.8" y1="369.4" x2="580.8" y2="372.4" stroke="#8a8a8a" stroke-width="1"/>
<line x1="601.2" y1="369.4" x2="601.2" y2="372.4" stroke="#8a8a8a" stroke-width="1"/>
<line x1="621.6" y1="369.4" x2="621.6" y2="372.4" stroke="#8a8a8a" stroke-width="1"/>
<line x1="642.0" y1="369.4" x2="642.0" y2="372.4" stroke="#8a8a8a" stroke-width="1"/>
<line x1="662.4" y1="369.4" x2="662.4" y2="372.4" stroke="#8a8a8a" stroke-width="1"/>
<line x1="682.8" y1="369.4" x2="682.8" y2="372.4" stroke="#8a8a8a" stroke-width="1"/>
<line x1="703.2" y1="369.4" x2="703.2" y2="372.4" stroke="#8a8a8a" stroke-width="1"/>
<line x1="723.6" y1="369.4" x2="723.6" y2="372.4" stroke="#8a8a8a" stroke-width="1"/>
<line x1="744.0" y1="369.4" x2="744.0" y2="372.4" stroke="#8a8a8a" stroke-width="1"/>
<line x1="764.4" y1="369.4" x2="764.4" y2="372.4" stroke="#8a8a8a" stroke-width="1"/>
<text x="468.7" y="386" text-anchor="middle" class="yr" textLength="17" lengthAdjust="spacingAndGlyphs">2002</text>
<text x="489.1" y="386" text-anchor="middle" class="yr" textLength="17" lengthAdjust="spacingAndGlyphs">2003</text>
<text x="509.5" y="386" text-anchor="middle" class="yr" textLength="17" lengthAdjust="spacingAndGlyphs">2004</text>
<text x="529.9" y="386" text-anchor="middle" class="yr" textLength="17" lengthAdjust="spacingAndGlyphs">2005</text>
<text x="550.3" y="386" text-anchor="middle" class="yr" textLength="17" lengthAdjust="spacingAndGlyphs">2006</text>
<text x="570.7" y="386" text-anchor="middle" class="yr" textLength="17" lengthAdjust="spacingAndGlyphs">2007</text>
<text x="591.0" y="386" text-anchor="middle" class="yr" textLength="17" lengthAdjust="spacingAndGlyphs">2008</text>
<text x="611.4" y="386" text-anchor="middle" class="yr" textLength="17" lengthAdjust="spacingAndGlyphs">2009</text>
<text x="631.8" y="386" text-anchor="middle" class="yr" textLength="17" lengthAdjust="spacingAndGlyphs">2010</text>
<text x="652.2" y="386" text-anchor="middle" class="yr" textLength="17" lengthAdjust="spacingAndGlyphs">2011</text>
<text x="672.6" y="386" text-anchor="middle" class="yr" textLength="17" lengthAdjust="spacingAndGlyphs">2012</text>
<text x="693.0" y="386" text-anchor="middle" class="yr" textLength="17" lengthAdjust="spacingAndGlyphs">2013</text>
<text x="713.4" y="386" text-anchor="middle" class="yr" textLength="17" lengthAdjust="spacingAndGlyphs">2014</text>
<text x="733.8" y="386" text-anchor="middle" class="yr" textLength="17" lengthAdjust="spacingAndGlyphs">2015</text>
<text x="754.2" y="386" text-anchor="middle" class="yr" textLength="17" lengthAdjust="spacingAndGlyphs">2016</text>
<text x="431.5" y="385" class="ms" textLength="8" lengthAdjust="spacingAndGlyphs">M</text>
<text x="441.5" y="385" class="ms" textLength="6.5" lengthAdjust="spacingAndGlyphs">$</text>
<line x1="464.8" y1="318" x2="585.7" y2="288.4" stroke="#2590cf" stroke-width="1.8"/>
<polygon points="591.5,287 586.3,291.0 585.0,285.8" fill="#2590cf"/>
<text x="515.9" y="298.9" class="pc" textLength="24.3" lengthAdjust="spacingAndGlyphs">+47%</text>
<text x="582.0" y="303.1" class="pc" textLength="21.5" lengthAdjust="spacingAndGlyphs">-11%</text>
<text x="600.5" y="316.7" class="pc" textLength="22.1" lengthAdjust="spacingAndGlyphs">-21%</text>
<text x="627.8" y="310.5" class="pc" textLength="18.7" lengthAdjust="spacingAndGlyphs">+4%</text>
<text x="648.4" y="318.1" class="pc" textLength="17.0" lengthAdjust="spacingAndGlyphs">-6%</text>
<text x="663.5" y="327.9" class="pc" textLength="22.4" lengthAdjust="spacingAndGlyphs">-16%</text>
<text x="686.0" y="334.9" class="pc" textLength="17.6" lengthAdjust="spacingAndGlyphs">-8%</text>
<text x="710.2" y="330.1" class="pc" textLength="13.1" lengthAdjust="spacingAndGlyphs">2%</text>
<text x="727.1" y="327.9" class="pc" textLength="17.8" lengthAdjust="spacingAndGlyphs">+3%</text>
<text x="748.8" y="318.1" class="pc" textLength="17.8" lengthAdjust="spacingAndGlyphs">+2%</text>
<svg x="62.6" y="182.4" width="45.6" height="25.8" viewBox="0 0 60 30" preserveAspectRatio="none">
<rect width="60" height="30" fill="#4646a0"/>
<path d="M0,0 L60,30 M60,0 L0,30" stroke="#eee0ee" stroke-width="7"/>
<path d="M0,0 L60,30 M60,0 L0,30" stroke="#e890b8" stroke-width="1.4"/>
<path d="M31.6,0 V30 M0,16 H60" stroke="#f8eef0" stroke-width="10.5"/>
<path d="M31.6,0 V30 M0,16 H60" stroke="#f0341c" stroke-width="6.2"/>
<rect width="60" height="30" fill="url(#gl)"/>
</svg>
<g transform="translate(60.3,354) skewY(-1.8) translate(-60.3,-354)"><svg x="60.3" y="341.4" width="49" height="27.0" viewBox="0 0 60 30" preserveAspectRatio="none">
<rect y="0" width="60" height="10.5" fill="#141414"/>
<rect y="10.5" width="60" height="9.5" fill="#f02a10"/>
<rect y="20" width="60" height="10" fill="#f0b020"/>
<rect width="60" height="30" fill="url(#gl)"/>
</svg></g>
<g transform="translate(462.2,126) skewY(-1.8) translate(-462.2,-126)"><svg x="462.2" y="113.2" width="44.5" height="26.4" viewBox="0 0 60 30" preserveAspectRatio="none">
<rect x="0" width="22.2" height="30" fill="#5850c8"/>
<rect x="22.2" width="20" height="30" fill="#fbfbfb"/>
<rect x="42.2" width="17.8" height="30" fill="#ff3414"/>
<rect width="60" height="30" fill="url(#gl)"/>
</svg></g>
<g transform="translate(462.2,242) skewY(-1.8) translate(-462.2,-242)"><svg x="462.2" y="230.3" width="45.2" height="25.8" viewBox="0 0 60 30" preserveAspectRatio="none">
<rect x="0" width="22.5" height="30" fill="#44c23c"/>
<rect x="22.5" width="19" height="30" fill="#fbfbfb"/>
<rect x="41.5" width="18.5" height="30" fill="#ff3a1e"/>
<rect width="60" height="30" fill="url(#gl)"/>
</svg></g>
<svg x="464.6" y="343.6" width="45.3" height="25.8" viewBox="0 0 60 30" preserveAspectRatio="none">
<rect width="60" height="30" fill="#de1414"/>
<rect y="24" width="60" height="6" fill="#c80f0f"/>
<rect y="6.8" width="60" height="17.2" fill="#fde800"/>
<path d="M15,13.5 Q21,8 27,13.5 L26.5,14.5 L15.5,14.5Z" fill="#e8801a"/>
<path d="M16,15 H26 V21 Q21,25 16,21Z" fill="#d8402a"/>
<rect x="19.5" y="16.5" width="3.5" height="4.2" fill="#f4b0a8"/>
<rect x="12.8" y="15" width="2.2" height="8" fill="#e89060"/>
<rect x="27.2" y="15" width="2.2" height="8" fill="#e89060"/>
<rect width="60" height="30" fill="url(#gl)"/>
</svg>
<rect x="776" y="0" width="1" height="409" fill="#eef4fa"/><rect x="777" y="0" width="1" height="409" fill="#8a9aaa"/><rect x="778" y="0" width="1" height="409" fill="#2c3d50"/>
</svg>
</body></html>
